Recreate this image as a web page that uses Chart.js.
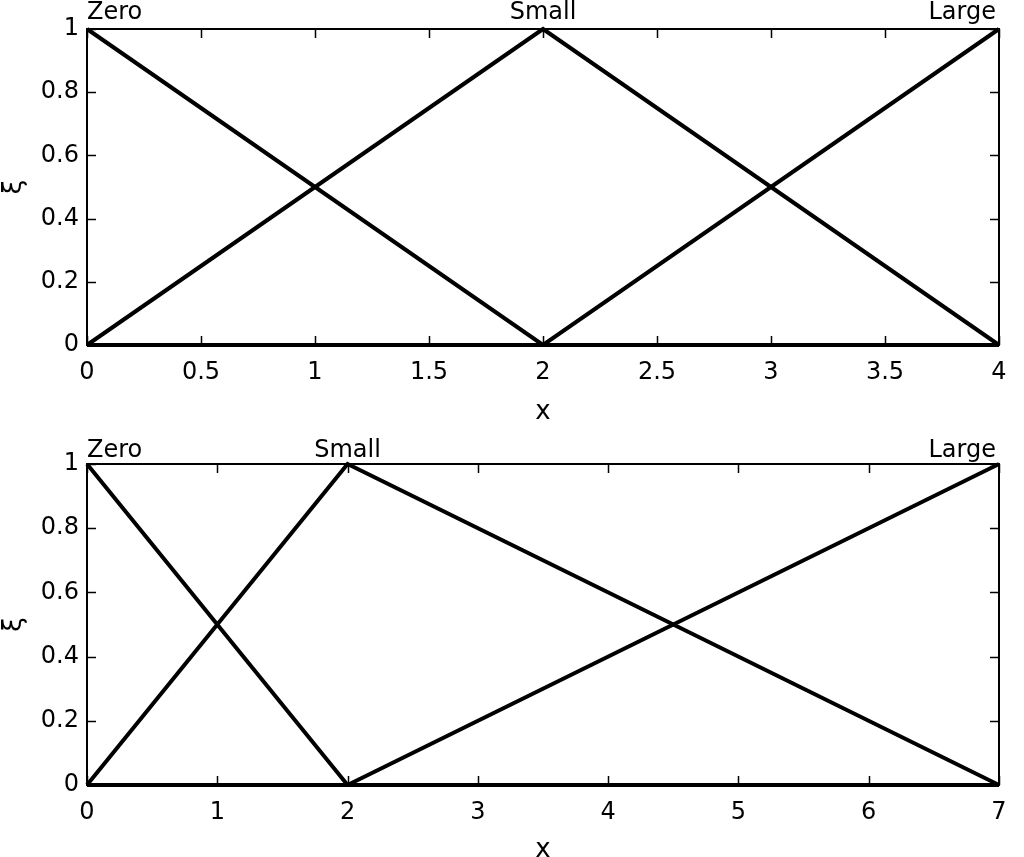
<!DOCTYPE html>
<html>
<head>
<meta charset="utf-8">
<script src="https://cdn.jsdelivr.net/npm/chart.js@4.4.1/dist/chart.umd.min.js"></script>
<style>
  html, body { margin: 0; padding: 0; background: #fff; overflow: hidden; width: 1024px; height: 857px; }
  .wrap { position: absolute; left: 0; width: 1024px; }
</style>
</head>
<body>
<div class="wrap" style="top:0;height:430px"><canvas id="c1" width="1024" height="430"></canvas></div>
<div class="wrap" style="top:430px;height:440px"><canvas id="c2" width="1024" height="440"></canvas></div>
<script>
// ---- data (top panel) ----
const topX = [0, 2, 4];
const topZero = [1, 0, 0];
const topSmall = [0, 1, 0];
const topLarge = [0, 0, 1];
const topXTicks = [0, 0.5, 1, 1.5, 2, 2.5, 3, 3.5, 4];

// ---- data (bottom panel) ----
const botX = [0, 2, 7];
const botZero = [1, 0, 0];
const botSmall = [0, 1, 0];
const botLarge = [0, 0, 1];
const botXTicks = [0, 1, 2, 3, 4, 5, 6, 7];

const yTicks = [0, 0.2, 0.4, 0.6, 0.8, 1];
const setNames = ['Zero', 'Small', 'Large'];
const topLabelX = [0, 2, 4];
const botLabelX = [0, 2, 7];
const xTitle = 'x';
const yTitle = 'ξ';

const FONT = '"DejaVu Sans", sans-serif';

function pts(xs, ys) { return xs.map((x, i) => ({ x: x, y: ys[i] })); }

const boxPlugin = {
  id: 'matlabBox',
  afterDatasetsDraw(chart, args, opts) {
    const { ctx, chartArea: a, scales } = chart;
    ctx.save();
    ctx.strokeStyle = '#000';
    ctx.lineWidth = 2;
    ctx.strokeRect(a.left, a.top, a.right - a.left, a.bottom - a.top);
    const tl = 9;
    ctx.beginPath();
    scales.x.ticks.forEach(t => {
      const px = Math.round(scales.x.getPixelForValue(t.value)) + 0.5;
      ctx.moveTo(px, a.bottom); ctx.lineTo(px, a.bottom - tl);
      ctx.moveTo(px, a.top); ctx.lineTo(px, a.top + tl);
    });
    scales.y.ticks.forEach(t => {
      const py = Math.round(scales.y.getPixelForValue(t.value)) + 0.5;
      ctx.moveTo(a.left, py); ctx.lineTo(a.left + tl, py);
      ctx.moveTo(a.right, py); ctx.lineTo(a.right - tl, py);
    });
    ctx.lineWidth = 1.5;
    ctx.stroke();
    // set names above the axes
    ctx.fillStyle = '#000';
    ctx.font = '24px ' + FONT;
    ctx.textBaseline = 'alphabetic';
    opts.labels.forEach((name, i) => {
      const v = opts.positions[i];
      const px = scales.x.getPixelForValue(v);
      if (v === scales.x.min) ctx.textAlign = 'left';
      else if (v === scales.x.max) ctx.textAlign = 'right';
      else ctx.textAlign = 'center';
      ctx.fillText(name, px + (ctx.textAlign === 'right' ? -3 : 0), a.top - opts.gap);
    });
    ctx.restore();
  }
};

function makeChart(id, xs, zero, small, large, xTicks, xmax, labelPos, topPad, gap, titlePad) {
  const ds = (label, ys) => ({
    label: label, data: pts(xs, ys), borderColor: '#000', backgroundColor: '#000',
    borderWidth: 4, pointRadius: 0, tension: 0, clip: 6
  });
  return new Chart(document.getElementById(id), {
    type: 'line',
    data: { datasets: [ds('Zero', zero), ds('Small', small), ds('Large', large)] },
    options: {
      responsive: false, animation: false,
      layout: { padding: { top: topPad, right: 25, left: 0, bottom: 0 } },
      plugins: {
        legend: { display: false }, tooltip: { enabled: false },
        matlabBox: { labels: setNames, positions: labelPos, gap: gap }
      },
      scales: {
        x: {
          type: 'linear', min: 0, max: xmax,
          afterBuildTicks: s => { s.ticks = xTicks.map(v => ({ value: v })); },
          afterFit: s => { s.height = 85; },
          grid: { display: false, drawTicks: false }, border: { display: false },
          ticks: { color: '#000', font: { family: FONT, size: 24 }, padding: 13, maxRotation: 0, autoSkip: false,
                   callback: v => String(v) },
          title: { display: true, text: xTitle, color: '#000', font: { family: FONT, size: 26, lineHeight: 1 },
                   padding: { top: 0, bottom: titlePad } }
        },
        y: {
          type: 'linear', min: 0, max: 1,
          afterBuildTicks: s => { s.ticks = yTicks.map(v => ({ value: v })); },
          afterFit: s => { s.width = 87; },
          grid: { display: false, drawTicks: false }, border: { display: false },
          ticks: { color: '#000', font: { family: FONT, size: 24 }, padding: 8, autoSkip: false,
                   callback: v => String(+v.toFixed(1)) },
          title: { display: true, text: yTitle, color: '#000', font: { family: FONT, size: 26, lineHeight: 1 },
                   padding: { top: 1, bottom: 0 } }
        }
      }
    },
    plugins: [boxPlugin]
  });
}

makeChart('c1', topX, topZero, topSmall, topLarge, topXTicks, 4, topLabelX, 29, 10, 5);
makeChart('c2', botX, botZero, botSmall, botLarge, botXTicks, 7, botLabelX, 34, 7, 7);
</script>
</body>
</html>
